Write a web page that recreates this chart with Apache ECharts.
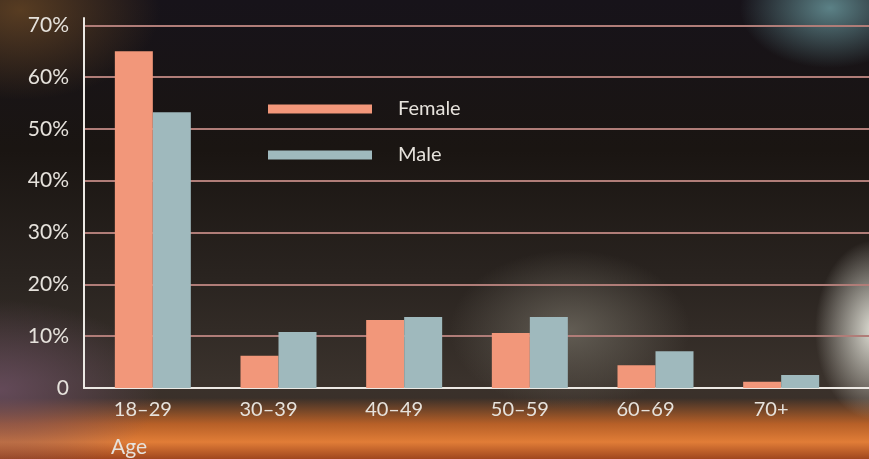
<!DOCTYPE html>
<html>
<head>
<meta charset="utf-8">
<script src="https://cdn.jsdelivr.net/npm/echarts@6/dist/echarts.min.js"></script>
<style>
  html, body { margin: 0; padding: 0; width: 869px; height: 459px; overflow: hidden; }
  body {
    background:
      radial-gradient(ellipse 90px 60px at 830px 8px, rgba(95,135,140,0.95), rgba(95,135,140,0) 100%),
      radial-gradient(ellipse 60px 90px at 875px 330px, rgba(235,235,225,0.95), rgba(235,235,225,0) 100%),
      radial-gradient(ellipse 120px 80px at 570px 330px, rgba(110,105,95,0.8), rgba(110,105,95,0) 100%),
      radial-gradient(ellipse 140px 90px at 20px 10px, rgba(95,65,35,0.9), rgba(95,65,35,0) 100%),
      radial-gradient(ellipse 160px 90px at 0px 390px, rgba(110,80,100,0.8), rgba(110,80,100,0) 100%),
      linear-gradient(to bottom, rgba(0,0,0,0) 0px, rgba(0,0,0,0) 398px, rgba(205,105,40,0.85) 424px, rgba(225,125,55,1) 442px, rgba(160,70,30,1) 459px),
      linear-gradient(to bottom, #17131a 0px, #1a1512 150px, #2a2420 280px, #3a322c 380px, #3a2a22 459px);
  }
  #chart { width: 869px; height: 459px; }
</style>
</head>
<body>
<div id="chart"></div>
<script>
// categories and values (percent)
const ages = ['18–29', '30–39', '40–49', '50–59', '60–69', '70+'];
const female = [65, 6.2, 13.1, 10.6, 4.4, 1.2];
const male = [53.2, 10.8, 13.7, 13.7, 7.1, 2.5];
const yTicks = [0, 10, 20, 30, 40, 50, 60, 70];

const chart = echarts.init(document.getElementById('chart'));

const txt = '#e6e2dc';
const gridLine = '#b07d78';
const fontFam = 'Lato, "Noto Sans", sans-serif';
const yMax = 71.4;

chart.setOption({
  backgroundColor: 'transparent',
  textStyle: { fontFamily: fontFam },
  title: {
    text: 'Age', left: 106, top: 432,
    textStyle: { color: txt, fontSize: 21, fontWeight: 'normal', fontFamily: fontFam }
  },
  legend: {
    orient: 'vertical', left: 263, top: 94, itemGap: 26,
    itemWidth: 104, itemHeight: 9, icon: 'rect',
    textStyle: { color: txt, fontSize: 20, padding: [0, 0, 0, 21] },
    data: ['Female', 'Male']
  },
  grid: [
    { left: 84, right: 31, top: 18, bottom: 71 },   // axes + gridlines
    { left: 90, right: 25, top: 18, bottom: 71 },   // bars
    { left: 838, right: 0, top: 18, bottom: 71 }    // gridline tail on the right
  ],
  xAxis: [
    {
      gridIndex: 0, type: 'category', data: ages,
      axisLine: { lineStyle: { color: '#ece9e4', width: 2 } },
      axisTick: { length: 7, lineStyle: { color: '#ece9e4', width: 2 } },
      axisLabel: { color: txt, fontSize: 20, margin: 12, padding: [0, 8, 0, 0] }
    },
    { gridIndex: 1, type: 'category', data: ages, show: false },
    {
      gridIndex: 2, type: 'value', min: 0, max: 1,
      axisLine: { show: true, lineStyle: { color: '#ece9e4', width: 2 } },
      axisTick: { show: false }, axisLabel: { show: false }, splitLine: { show: false }
    }
  ],
  yAxis: [
    {
      gridIndex: 0, type: 'value', min: 0, max: yMax, interval: 10,
      axisLine: { show: true, lineStyle: { color: '#ece9e4', width: 2 } },
      axisTick: { show: false },
      axisLabel: {
        color: txt, fontSize: 21, margin: 15, showMaxLabel: false,
        formatter: v => yTicks.indexOf(v) < 0 ? '' : (v === 0 ? '0' : v + '%')
      },
      splitLine: { showMinLine: false, showMaxLine: false, lineStyle: { color: gridLine, width: 2 } }
    },
    { gridIndex: 1, type: 'value', min: 0, max: yMax, show: false, splitLine: { show: false } },
    {
      gridIndex: 2, type: 'value', min: 0, max: yMax, interval: 10,
      axisLine: { show: false }, axisTick: { show: false }, axisLabel: { show: false },
      splitLine: { showMinLine: false, showMaxLine: false, lineStyle: { color: gridLine, width: 2 } }
    }
  ],
  series: [
    {
      name: 'Female', type: 'bar', xAxisIndex: 1, yAxisIndex: 1,
      data: female, barWidth: 38, barGap: '0%',
      itemStyle: { color: '#f2977a' }
    },
    {
      name: 'Male', type: 'bar', xAxisIndex: 1, yAxisIndex: 1,
      data: male, barWidth: 38, barGap: '0%',
      itemStyle: { color: '#9fb9bd' }
    }
  ]
});
</script>
</body>
</html>
